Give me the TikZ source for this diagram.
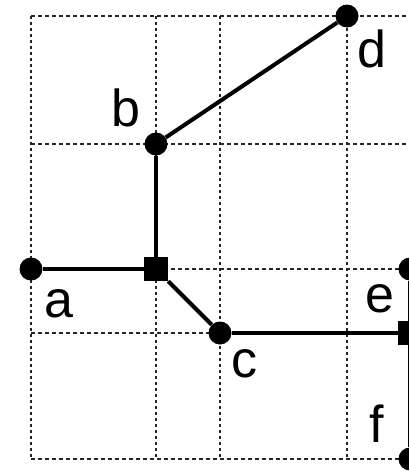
\documentclass[tikz,border=0pt]{standalone}
\usepackage{fontspec}
\setmainfont{Liberation Sans}
\usetikzlibrary{positioning}
\tikzset{
  gridh/.style={line width=2pt, black!85, dash pattern=on 4pt off 3pt},
  gridv/.style={line width=2pt, black!85, dash pattern=on 3pt off 3pt},
  wire/.style={line width=4pt, black},
  dot/.style={circle, fill=black, inner sep=0pt, minimum size=23pt},
  junc/.style={rectangle, fill=black, inner sep=0pt, minimum size=24pt},
  lbl/.style={anchor=base, inner sep=0pt, font=\fontsize{52}{60}\selectfont},
}
\begin{document}
\begin{tikzpicture}[x=1pt, y=-1pt]
    \useasboundingbox (0,0) rectangle (408,474);
    % grid
    \foreach \gy in {16,144,269,333,459}
      \draw[gridh] (31,\gy) -- (412,\gy);
    \foreach \gx in {31,156,220,347}
      \draw[gridv] (\gx,16) -- (\gx,459);
    % points
    \node[dot] (d) at (347,16) {};
    \node[dot] (b) at (156,144) {};
    \node[junc] (s1) at (156,269) {};
    \node[dot] (a) at (31,269) {};
    \node[dot] (c) at (220,333) {};
    \node[dot] (e) at (410,269) {};
    \node[junc] (s2) at (410,333) {};
    \node[dot] (f) at (410,459) {};
    % wires
    \draw[wire] (d) -- (b);
    \draw[wire] (b) -- (s1);
    \draw[wire] (a) -- (s1);
    \draw[wire] (s1) -- (c);
    \draw[wire] (c) -- (s2);
    \draw[wire] (e) -- (s2);
    \draw[wire] (s2) -- (f);
    % labels
    \node[lbl] (la) at (59,317) {a};
    \node[lbl] (lb) at (126,126) {b};
    \node[lbl] (lc) at (244,377) {c};
    \node[lbl] (ld) at (372,67) {d};
    \node[lbl] (le) at (380,312) {e};
    \node[lbl] (lf) at (377,442) {f};
\end{tikzpicture}
\end{document}
